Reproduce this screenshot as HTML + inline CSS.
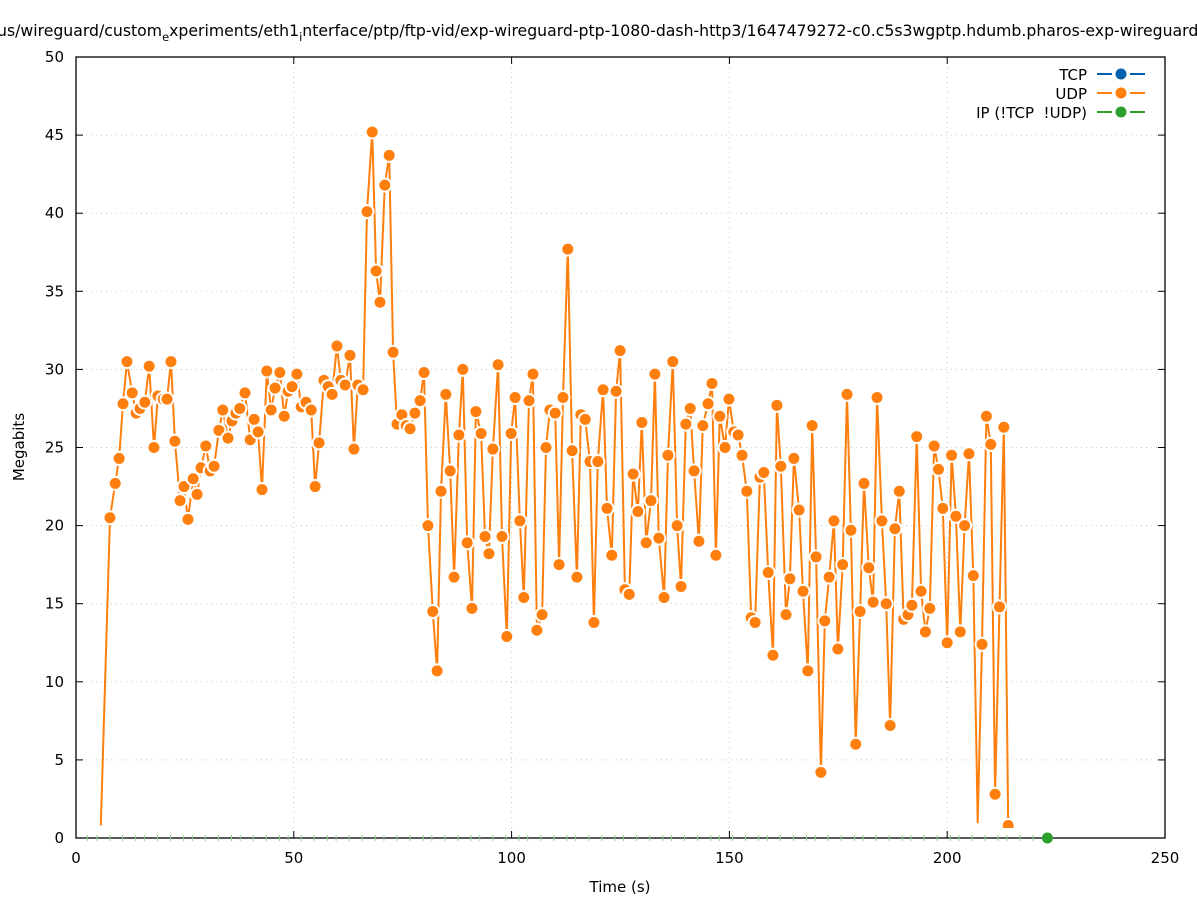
<!DOCTYPE html>
<html><head><meta charset="utf-8"><style>
html,body{margin:0;padding:0;background:#fff;}
svg{display:block;font-family:"DejaVu Sans","Liberation Sans",sans-serif;}
</style></head><body>
<svg id="chart" width="1197" height="900" viewBox="0 0 1197 900" xmlns="http://www.w3.org/2000/svg">
<text x="-3" y="36" font-size="15.7" fill="#000">us/wireguard/custom<tspan font-size="11.5" dy="5">e</tspan><tspan dy="-5">xperiments/eth1</tspan><tspan font-size="11.5" dy="5">i</tspan><tspan dy="-5">nterface/ptp/ftp-vid/exp-wireguard-ptp-1080-dash-http3/1647479272-c0.c5s3wgptp.hdumb.pharos-exp-wireguard-ptp</tspan></text>
<g id="grid"></g>
<g id="axes"></g>
<g id="series"></g>
<text transform="translate(24,447) rotate(-90)" text-anchor="middle" font-size="15">Megabits</text>
<text x="620" y="892" text-anchor="middle" font-size="15">Time (s)</text>
<g font-size="15" text-anchor="end">
 <g><text x="1087" y="80">TCP</text><line x1="1097" y1="74" x2="1145" y2="74" stroke="#0060ad" stroke-width="2"/><rect x="1112" y="68" width="18" height="12" fill="#fff"/><circle cx="1121" cy="74" r="5.5" fill="#0060ad"/></g>
 <g><text x="1087" y="99">UDP</text><line x1="1097" y1="93" x2="1145" y2="93" stroke="#ff7f0e" stroke-width="2"/><rect x="1112" y="87" width="18" height="12" fill="#fff"/><circle cx="1121" cy="93" r="5.5" fill="#ff7f0e"/></g>
 <g><text x="1087" y="118">IP (!TCP &#160;!UDP)</text><line x1="1097" y1="112" x2="1145" y2="112" stroke="#2ca02c" stroke-width="2"/><rect x="1112" y="106" width="18" height="12" fill="#fff"/><circle cx="1121" cy="112" r="5.5" fill="#2ca02c"/></g>
</g>
<defs><clipPath id="clipPlot"><rect x="76" y="57" width="1089" height="771"/></clipPath></defs>
</svg>
<script>
const xTicks=[0,50,100,150,200,250];
const yTicks=[0,5,10,15,20,25,30,35,40,45,50];
const udpTimes=[5.7,7.8,9,9.9,10.8,11.7,12.9,13.8,14.7,15.8,16.8,17.9,18.8,20,20.9,21.8,22.7,23.9,24.8,25.7,26.9,27.8,28.7,29.8,30.8,31.7,32.8,33.7,34.9,35.8,36.7,37.6,38.8,40,40.9,41.8,42.7,43.8,44.8,45.7,46.8,47.8,48.7,49.6,50.7,51.7,52.8,54,54.9,55.8,56.9,57.9,58.8,59.9,60.8,61.8,62.9,63.8,64.7,65.9,66.8,68,68.9,69.8,70.9,71.9,72.8,73.7,74.8,75.8,76.7,77.8,79,79.9,80.8,81.9,82.9,83.8,84.9,85.9,86.8,87.9,88.8,89.8,90.9,91.8,93,93.9,94.8,95.7,96.9,97.8,98.9,99.9,100.8,101.9,102.8,104,104.9,105.8,107,107.9,108.8,110,110.9,111.8,112.9,113.9,115,115.9,116.9,118,118.9,119.8,121,121.9,123,124,124.9,126,127,127.9,129,129.9,130.9,132,132.9,133.8,135,135.9,137,138,138.9,140,141,141.9,143,143.9,145.1,146,146.9,147.8,149,149.9,151,152,152.9,154,155,155.9,157,157.9,158.9,160,160.9,161.8,163,163.9,164.8,166,166.9,168,169,169.9,171,171.9,172.9,174,174.9,176,177,177.9,179,180,180.9,182,183,183.9,185,186,186.9,188,189,190,191,191.9,193,194,195,196,197,198,199,200,201,202,203,204,205,206,207,208,209,210,211,212,213,214];
const udpValues=[0.8,20.5,22.7,24.3,27.8,30.5,28.5,27.2,27.5,27.9,30.2,25.0,28.3,28.1,28.1,30.5,25.4,21.6,22.5,20.4,23.0,22.0,23.7,25.1,23.5,23.8,26.1,27.4,25.6,26.7,27.2,27.5,28.5,25.5,26.8,26.0,22.3,29.9,27.4,28.8,29.8,27.0,28.6,28.9,29.7,27.6,27.9,27.4,22.5,25.3,29.3,28.9,28.4,31.5,29.3,29.0,30.9,24.9,29.0,28.7,40.1,45.2,36.3,34.3,41.8,43.7,31.1,26.5,27.1,26.4,26.2,27.2,28.0,29.8,20.0,14.5,10.7,22.2,28.4,23.5,16.7,25.8,30.0,18.9,14.7,27.3,25.9,19.3,18.2,24.9,30.3,19.3,12.9,25.9,28.2,20.3,15.4,28.0,29.7,13.3,14.3,25.0,27.4,27.2,17.5,28.2,37.7,24.8,16.7,27.1,26.8,24.1,13.8,24.1,28.7,21.1,18.1,28.6,31.2,15.9,15.6,23.3,20.9,26.6,18.9,21.6,29.7,19.2,15.4,24.5,30.5,20.0,16.1,26.5,27.5,23.5,19.0,26.4,27.8,29.1,18.1,27.0,25.0,28.1,26.0,25.8,24.5,22.2,14.1,13.8,23.1,23.4,17.0,11.7,27.7,23.8,14.3,16.6,24.3,21.0,15.8,10.7,26.4,18.0,4.2,13.9,16.7,20.3,12.1,17.5,28.4,19.7,6.0,14.5,22.7,17.3,15.1,28.2,20.3,15.0,7.2,19.8,22.2,14.0,14.3,14.9,25.7,15.8,13.2,14.7,25.1,23.6,21.1,12.5,24.5,20.6,13.2,20.0,24.6,16.8,1.0,12.4,27.0,25.2,2.8,14.8,26.3,0.8];
const ipTimes=[2.6,4.8,7.8,10.7,13.7,15.7,18.7,21.7,24.7,26.7,29.7,32.7,35.7,37.7,40.7,43.7,46.7,48.7,51.7,54.7,57.7,59.7,62.7,65.7,68.7,70.7,73.7,76.7,79.7,81.7,84.7,87.7,90.7,92.7,95.7,98.7,101.7,103.7,106.7,109.7,112.7,114.7,117.7,120.7,123.7,125.7,128.7,131.7,134.7,136.7,139.7,142.7,145.7,147.7,150.7,153.7,156.7,158.7,161.7,164.7,167.7,169.7,172.7,175.7,178.7,180.7,183.7,186.7,189.7,191.7,194.7,197.7,200.7,202.7,205.7,208.7,211.7,213.7,216.7,219.7,223];
const ipValues=ipTimes.map(()=>0);

const L=76,R=1165,T=57,B=838,XMAX=250,YMAX=50;
const xs=t=>L+(R-L)*t/XMAX;
const ys=v=>B-(B-T)*v/YMAX;
const NS='http://www.w3.org/2000/svg';
function mk(tag,attrs,parent){const e=document.createElementNS(NS,tag);for(const k in attrs)e.setAttribute(k,attrs[k]);parent.appendChild(e);return e;}
const grid=document.getElementById('grid'),axes=document.getElementById('axes'),series=document.getElementById('series');

xTicks.forEach(t=>{
  const x=xs(t);
  if(t>0&&t<XMAX){const g=mk('line',{x1:x,y1:T,x2:x,y2:B,stroke:'#c8c8c8','stroke-width':1,'stroke-dasharray':'1,4'},grid);
  
  }
  mk('line',{x1:x,y1:B,x2:x,y2:B-7,stroke:'#000'},axes);
  mk('line',{x1:x,y1:T,x2:x,y2:T+7,stroke:'#000'},axes);
  const lb=mk('text',{x:x,y:B+25,'text-anchor':'middle','font-size':15},axes);
  lb.textContent=t;
  
  
});
yTicks.forEach(v=>{
  const y=ys(v);
  if(v>0&&v<YMAX){const g=mk('line',{x1:L,y1:y,x2:R,y2:y,stroke:'#c8c8c8','stroke-width':1,'stroke-dasharray':'1,4'},grid);
  
  }
  mk('line',{x1:L,y1:y,x2:L+7,y2:y,stroke:'#000'},axes);
  mk('line',{x1:R,y1:y,x2:R-7,y2:y,stroke:'#000'},axes);
  const lb=mk('text',{x:L-12,y:y+5,'text-anchor':'end','font-size':15},axes);
  lb.textContent=v;
  
  
});
const frame=mk('rect',{x:L,y:T,width:R-L,height:B-T,fill:'none',stroke:'#000','stroke-width':1.3},axes);



ipTimes.forEach((t,i)=>{
  const x=xs(t),y=ys(ipValues[i]);
  if(i===ipTimes.length-1){
    const c=mk('circle',{cx:x,cy:y,r:5.5,fill:'#2ca02c'},series);
    
    
  } else {
    const m=mk('line',{x1:x,y1:y-3,x2:x,y2:y+3,stroke:'#8fd08f','stroke-width':1},series);
    
    
  }
});

const pts=udpTimes.map((t,i)=>xs(t).toFixed(1)+','+ys(udpValues[i]).toFixed(1)).join(' ');
const pl=mk('polyline',{points:pts,fill:'none',stroke:'#ff7f0e','stroke-width':2,'stroke-linejoin':'round'},series);


const mg=mk('g',{'clip-path':'url(#clipPlot)'},series);
udpTimes.forEach((t,i)=>{
  if(i===0||(udpValues[i]<1.05&&i!==udpTimes.length-1)) return;
  const c=mk('circle',{cx:xs(t),cy:ys(udpValues[i]),r:6.5,fill:'#ff7f0e',stroke:'#fff','stroke-width':2},mg);
  
  
});
</script>
</body></html>
